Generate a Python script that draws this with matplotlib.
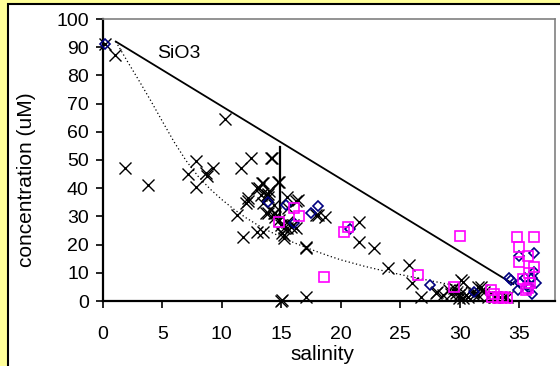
import matplotlib
matplotlib.use("Agg")
import matplotlib.pyplot as plt
from matplotlib.patches import Rectangle

plt.rcParams['font.family'] = ['Liberation Sans', 'DejaVu Sans']

# ---- data ----
cross_sal = [0.2, 1.0, 1.9, 3.8, 10.3, 7.8, 7.2, 7.8, 8.7, 8.8, 9.3, 11.6, 12.5, 14.2,
             14.7, 13.4, 13.0, 12.2, 11.3, 11.8, 12.0, 13.0, 13.5, 13.1, 13.5, 13.3,
             13.8, 13.9, 13.5, 13.9, 14.4, 14.5, 15.0, 14.8, 13.9, 14.0, 13.7, 14.4,
             14.5, 15.5, 16.2, 15.6, 14.8, 15.0, 15.2, 15.5, 15.8, 16.0, 16.2, 15.1,
             15.2, 17.1, 17.1, 15.2, 15.5, 17.9, 18.7, 21.5, 21.5, 22.8, 17.1, 24.0,
             25.7, 26.0, 26.7, 28.0, 28.6, 29.5, 30.1, 29.9, 31.5, 31.2, 30.7, 32.0,
             32.9, 33.4, 34.0, 30.3, 28.1, 29.1, 29.3, 29.7, 30.1, 30.5, 29.9, 30.3,
             31.1, 31.8, 31.9, 31.5, 32.4, 33.0, 33.7, 15.1, 12.2, 14.1, 16.4, 18.1]
cross_conc = [91.0, 87.2, 47.2, 41.1, 64.5, 49.6, 45.0, 40.4, 45.4, 44.5, 47.2, 47.2,
              50.7, 50.7, 42.2, 41.8, 40.0, 36.5, 30.5, 22.7, 34.7, 24.5, 24.5, 40.0,
              41.8, 37.6, 37.6, 37.0, 34.7, 31.2, 34.0, 31.2, 0.0, 42.2, 38.0, 39.0,
              31.2, 31.2, 29.8, 36.9, 35.5, 33.0, 28.7, 27.0, 25.9, 25.9, 26.2, 27.0,
              25.9, 24.1, 23.4, 18.8, 19.2, 22.3, 28.0, 30.5, 29.8, 28.0, 20.9, 18.8,
              1.4, 11.7, 12.8, 6.4, 1.4, 2.8, 2.1, 4.6, 7.4, 2.1, 5.0, 2.1, 1.4, 3.2,
              1.4, 1.4, 1.4, 6.7, 3.2, 3.9, 2.5, 2.8, 2.8, 2.1, 1.1, 1.1, 3.2, 5.0,
              3.9, 2.1, 1.4, 1.4, 1.4, 0.4, 35.5, 50.7, 35.8, 30.5]

diamond_sal = [0.2, 13.9, 15.4, 17.5, 18.1, 16.1, 20.8, 27.5, 31.2, 34.1,
               35.0, 36.2, 34.3, 34.9, 36.2, 36.1, 36.4, 35.8, 36.1, 35.7, 35.1, 35.5]
diamond_conc = [91.0, 35.0, 34.0, 31.2, 33.7, 27.7, 25.5, 5.7, 3.2, 8.2,
                16.0, 17.0, 7.4, 3.9, 10.3, 8.2, 6.4, 4.6, 2.5, 5.7, 6.4, 8.2]

square_sal = [16.1, 16.5, 14.8, 20.3, 20.6, 18.6, 30.0, 26.5, 29.5, 32.6,
              34.8, 36.2, 35.0, 35.0, 35.7, 36.2, 35.8, 35.3, 35.9, 35.7, 35.6,
              32.7, 33.2, 33.6, 34.0, 32.9]
square_conc = [33.0, 30.1, 28.0, 24.5, 26.2, 8.5, 23.0, 9.2, 5.0, 3.9,
               22.7, 22.7, 19.1, 13.8, 16.0, 12.1, 9.9, 7.8, 6.4, 4.6, 3.9,
               1.5, 1.2, 1.5, 1.2, 2.5]

mix_line_sal = [1.1, 34.5]
mix_line_conc = [92.0, 6.0]

vert_line_sal = [14.9, 14.9]
vert_line_conc = [54.5, 27.5]

curve_sal = [1.1, 2, 3, 4, 5, 6, 7, 8, 9, 10, 11, 12, 13, 14, 15, 16, 17, 18,
             19, 20, 22, 24, 26, 28, 30, 32, 34.3]
curve_conc = [92, 85.5, 78.5, 71.3, 63.8, 56.4, 49.8, 44.3, 39.8, 36, 32.6, 29.6,
              27, 24.7, 22.7, 20.8, 19.1, 17.5, 16, 14.6, 12.3, 10.3, 8.5, 6.8,
              5.2, 3.7, 2.2]

x_ticks = [0, 5, 10, 15, 20, 25, 30, 35]
y_ticks = [0, 10, 20, 30, 40, 50, 60, 70, 80, 90, 100]

# ---- figure ----
W, H = 560, 366
fig = plt.figure(figsize=(W / 100, H / 100), dpi=100, facecolor='#FFFF99')
fig.patches.append(Rectangle((8 / W, -0.01), 1.0, 1 - 4 / H + 0.01,
                             transform=fig.transFigure, facecolor='white',
                             edgecolor='black', linewidth=1.5, zorder=-10))

ax = fig.add_axes([102.7 / W, 1 - 301 / H, (555 - 102.7) / W, (301 - 19) / H])
ax.set_zorder(1)
ax.set_facecolor('white')
ax.set_xlim(0, 38)
ax.set_ylim(0, 100)

ax.plot(mix_line_sal, mix_line_conc, color='black', lw=1.3, zorder=2)
ax.plot(vert_line_sal, vert_line_conc, color='black', lw=1.6, zorder=2)
ax.plot(curve_sal, curve_conc, color='black', lw=0.9, ls=(0, (1, 2)), zorder=2)

ax.plot(cross_sal, cross_conc, ls='none', marker='x', ms=8, mew=1.0,
        color='black', clip_on=False, zorder=3)
ax.plot(diamond_sal, diamond_conc, ls='none', marker='D', ms=5.5, mew=1.2,
        mfc='none', mec='#000080', clip_on=False, zorder=4)
ax.plot(square_sal, square_conc, ls='none', marker='s', ms=6.5, mew=1.2,
        mfc='none', mec='#FF00FF', clip_on=False, zorder=5)

ax.text(4.6, 87.6, 'SiO3', fontsize=14, va='center', ha='left')

ax.set_xticks(x_ticks)
ax.set_yticks(y_ticks)
ax.tick_params(axis='x', direction='out', length=5, width=1.2, pad=13, labelsize=14)
ax.tick_params(axis='y', direction='out', length=5, width=1.2, pad=5, labelsize=14)
for s in ['left', 'bottom']:
    ax.spines[s].set_color('black')
    ax.spines[s].set_linewidth(1.6)
for s in ['top', 'right']:
    ax.spines[s].set_color('#808080')
    ax.spines[s].set_linewidth(1.2)

fig.text(322 / W, 1 - 355 / H, 'salinity', fontsize=15, ha='center', va='center')
fig.text(27 / W, 1 - 180 / H, 'concentration (uM)', fontsize=15, ha='center',
         va='center', rotation=90)

fig.savefig('out.png', dpi=100, facecolor=fig.get_facecolor())
